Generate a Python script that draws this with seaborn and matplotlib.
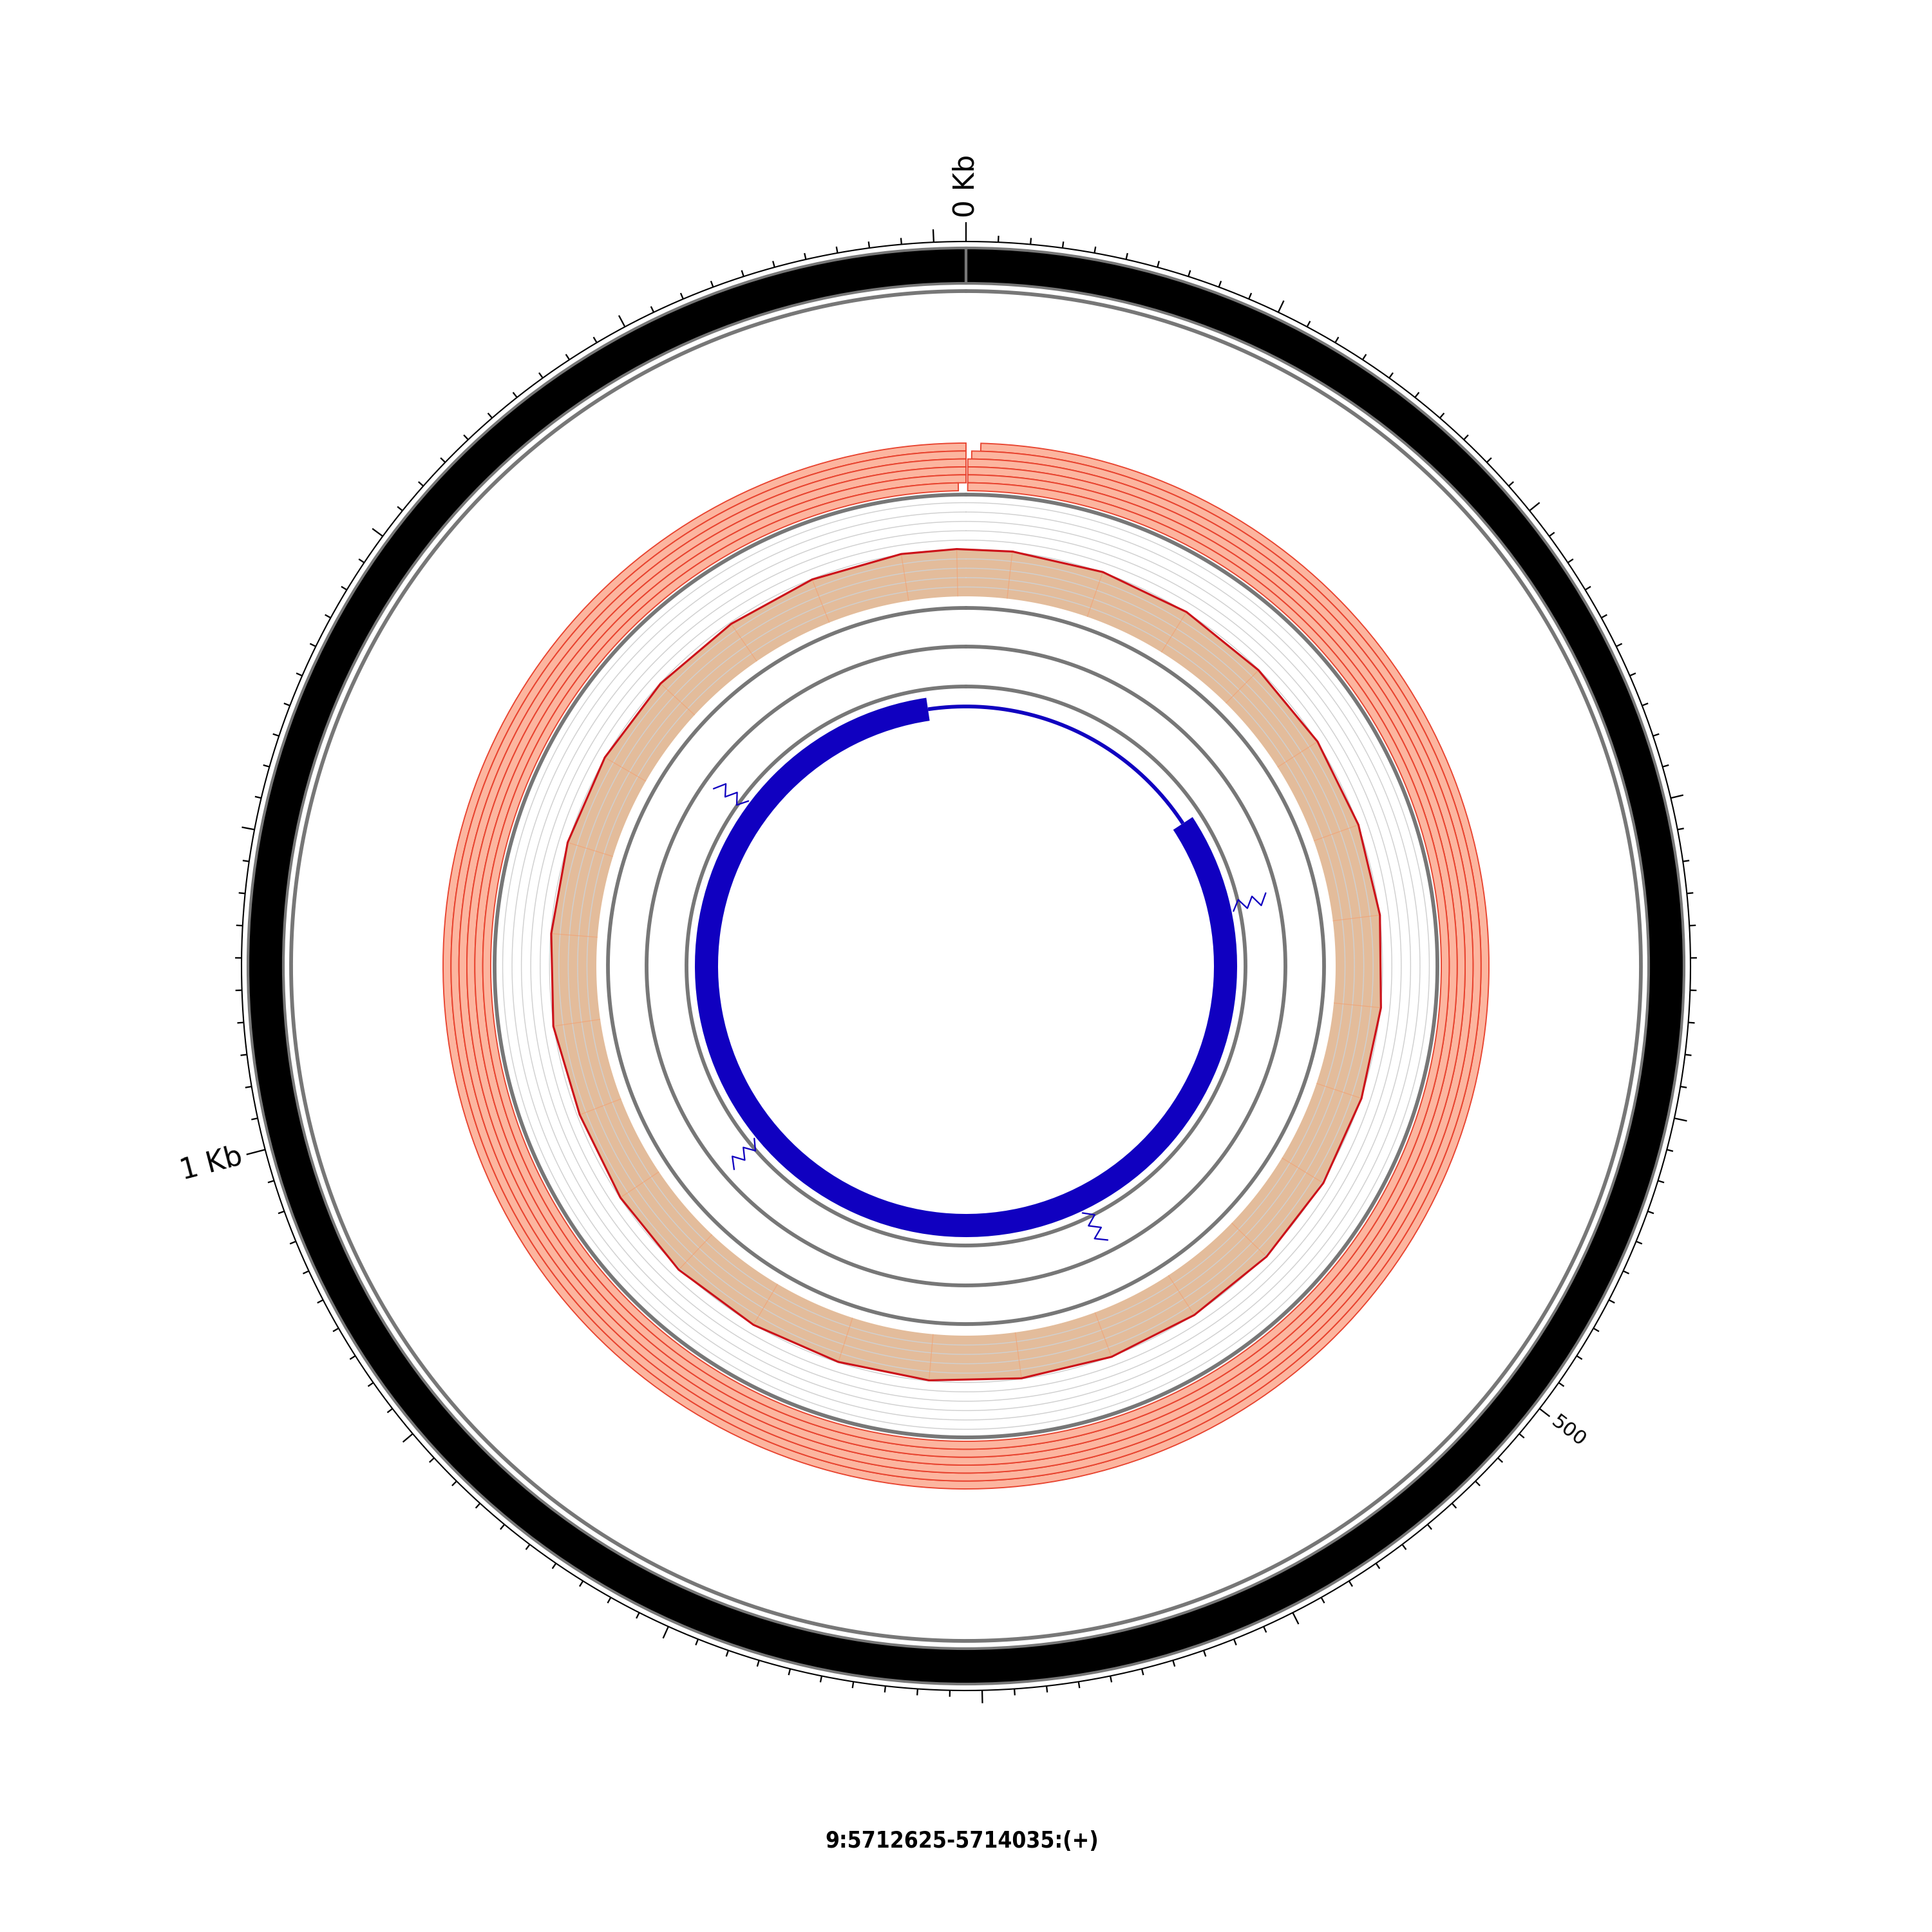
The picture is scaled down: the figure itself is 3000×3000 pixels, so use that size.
import numpy as np
import pandas as pd
import seaborn as sns
import matplotlib.pyplot as plt
from matplotlib import font_manager

# region shown: 9:5712625-5714035 (+), 1410 bp
genome_len = 1410
title = "9:5712625-5714035:(+)"

# tick labels
kb_labels = {0: "0 Kb", 1000: "1 Kb"}
small_labels = {500: "500"}

# six stacked tiles, outermost first (start, end in bp)
tile_starts = [6.4, 2.5, 0.8, 0.8, 0.8, 0.8]
tile_ends = [1410, 1410, 1410, 1410, 1410, 1406.4]

# histogram (50 bp windows, value at window centre, 0..1 of track height)
hist_pos = [25, 75, 125, 175, 225, 275, 325, 375, 425, 475, 525, 575, 625, 675,
            725, 775, 825, 875, 925, 975, 1025, 1075, 1125, 1175, 1225, 1275,
            1325, 1375, 1405]
hist_val = [0.46, 0.46, 0.46, 0.45, 0.46, 0.46, 0.46, 0.46, 0.46, 0.47, 0.47,
            0.46, 0.46, 0.45, 0.45, 0.45, 0.46, 0.47, 0.45, 0.43, 0.46, 0.45,
            0.46, 0.46, 0.45, 0.44, 0.45, 0.46, 0.46]

# gene model
exon_start, exon_end = 222, 1377
marker_pos = [303, 602, 900, 1199]

sns.set_theme(style="white")
plt.rcParams['font.family'] = ['DejaVu Sans']


def pick_condensed():
    # a narrow / condensed bold face for the title, if one is installed
    best, best_score = None, None
    for f in font_manager.fontManager.ttflist:
        nm = f.name.lower()
        narrow = 'narrow' in nm or 'condensed' in nm or \
            str(f.stretch) in ('condensed', 'semi-condensed', 'extra-condensed')
        if not narrow or 'mono' in nm:
            continue
        w = f.weight if isinstance(f.weight, int) else \
            font_manager.weight_dict.get(str(f.weight), 400)
        score = abs(w - 700) + (0 if f.style == 'normal' else 1000)
        if best_score is None or score < best_score:
            best, best_score = f, score
    return best


def th(bp):
    return np.asarray(bp, dtype=float) / genome_len * 2 * np.pi


def circle(ax, r, **kw):
    t = np.linspace(0, 2 * np.pi, 1200)
    ax.plot(t, np.full_like(t, r), **kw)


fig = plt.figure(figsize=(10, 10), dpi=300)
R = 1300  # radial units = output pixels
ax = fig.add_axes([0.5 - R / 3000, 0.5 - R / 3000, 2 * R / 3000, 2 * R / 3000],
                  projection='polar')
ax.set_theta_zero_location('N')
ax.set_theta_direction(-1)

gray = '#777777'

# ideogram
ax.bar(np.pi, 1115 - 1060, width=2 * np.pi, bottom=1060, color='black',
       edgecolor=gray, linewidth=1.0, align='center')
circle(ax, 1048, color=gray, lw=1.4)

# scale ticks
circle(ax, 1125, color='black', lw=0.5)
minor = np.arange(0, genome_len, 10)
lengths = np.where(minor % 100 == 0, 20, 10)
lengths = np.where(np.isin(minor, list(kb_labels)), 30, lengths)
ax.vlines(th(minor), 1125, 1125 + lengths, color='black', lw=0.55)

for pos, lab in list(kb_labels.items()) + list(small_labels.items()):
    phi = pos / genome_len * 360
    big = pos in kb_labels
    r_txt = 1162 if big else 1152
    if phi < 180:
        rot, ha = 90 - phi, 'left'
    else:
        rot, ha = 270 - phi, 'right'
    ax.text(th(pos), r_txt, lab, rotation=rot, rotation_mode='anchor', ha=ha,
            va='center', fontsize=10.5 if big else 7.5, color='black')

# tiles
tile_h = (812 - 738) / len(tile_starts)
for i, (s, e) in enumerate(zip(tile_starts, tile_ends)):
    bottom = 812 - tile_h * (i + 1)
    ax.bar(th((s + e) / 2), tile_h, width=th(e - s), bottom=bottom,
           color='#fcb59f', edgecolor='#e8432f', linewidth=0.45)

circle(ax, 732, color=gray, lw=1.4)

# histogram track 574..734
base, top = 574, 734
for r in np.linspace(base, top, 12)[1:-1]:
    circle(ax, r, color='#d0d0d0', lw=0.35)

hp = np.array(hist_pos + [hist_pos[0] + genome_len])
hv = np.array(hist_val + [hist_val[0]])
hr = base + hv * (top - base)
tb = np.linspace(th(hp[-1]), th(hp[0]), 600)
ax.fill(np.concatenate([th(hp), tb]), np.concatenate([hr, np.full_like(tb, base)]),
        color='#dcac82', alpha=0.8, lw=0)
ax.vlines(th(hp[:-1]), base, hr[:-1], color='#f2a072', lw=0.3, alpha=0.7)
hist_df = pd.DataFrame({'theta': th(hp), 'r': hr})
sns.lineplot(data=hist_df, x='theta', y='r', sort=False, estimator=None,
             color='#cc1119', linewidth=0.75, ax=ax)

circle(ax, 556, color=gray, lw=1.4)
circle(ax, 496, color=gray, lw=1.4)
circle(ax, 434, color=gray, lw=1.4)

# gene
blue = '#1000c0'
ax.bar(th((exon_start + exon_end) / 2), 36, width=th(exon_end - exon_start),
       bottom=385, color=blue, linewidth=0)
ti = np.linspace(th(exon_end), th(exon_start + genome_len), 300)
ax.plot(ti, np.full_like(ti, 403), color=blue, lw=1.4, solid_capstyle='butt')

zig_r = [424, 435, 446, 457, 468, 479]
zig_off = [4.1, -4.1, 4.1, -4.1, 4.1, -4.1]
for p in marker_pos:
    ax.plot(th(np.array(zig_off) + p), zig_r, color=blue, lw=0.55)

ax.set_ylim(0, R)
ax.set_axis_off()

cf = pick_condensed()
if cf is not None:
    tprops = font_manager.FontProperties(fname=cf.fname, size=10)
else:
    tprops = font_manager.FontProperties(family=['Liberation Sans', 'DejaVu Sans'],
                                         weight='bold', size=10)
ttl = fig.text(0.498, 0.047, title, fontproperties=tprops, color='black',
               ha='center', va='center')
# the original title is ~370 px wide and ~28 px tall; fonts here are wider,
# so settle between the two
fig.canvas.draw()
w = ttl.get_window_extent().width
ttl.set_fontsize(10 * min(1.1, 425 / w))

fig.savefig('out.png', dpi=300, facecolor='white')
